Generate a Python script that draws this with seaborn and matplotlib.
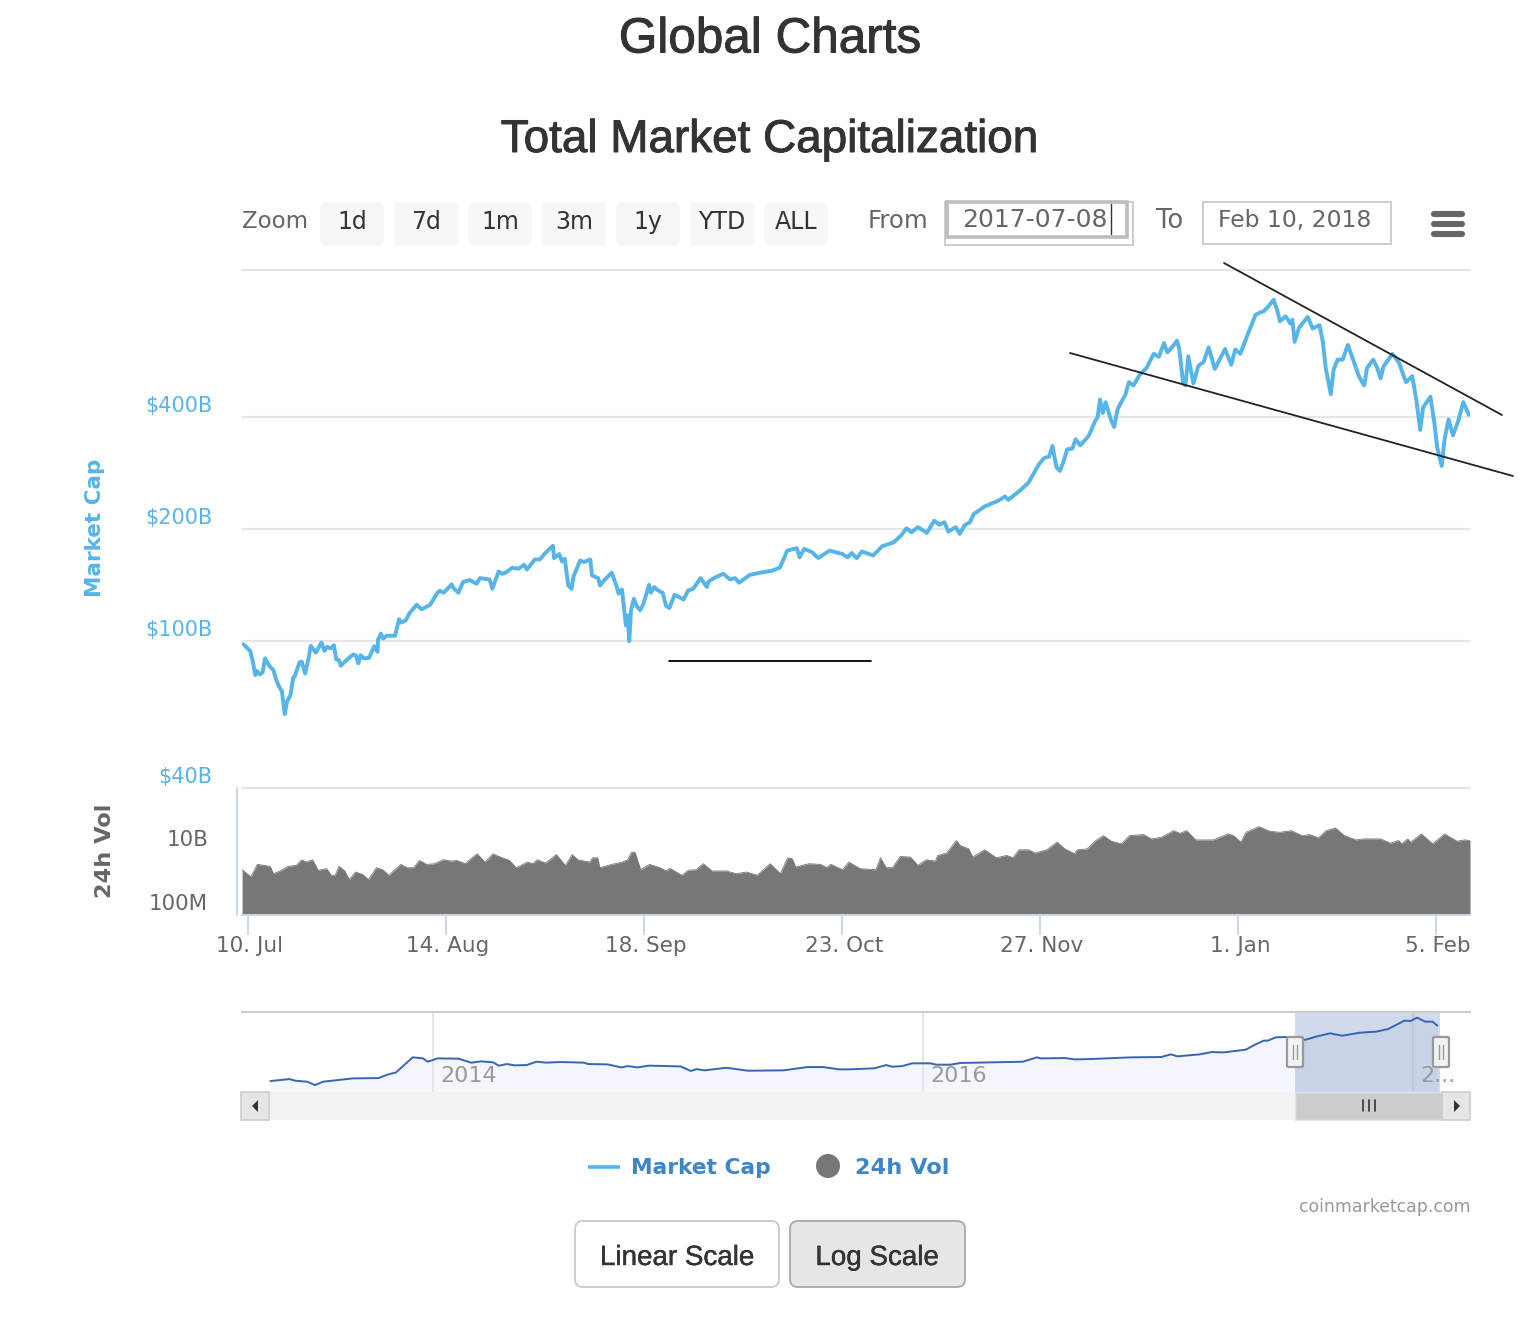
import pandas as pd
import numpy as np
import matplotlib
matplotlib.use("Agg")
import matplotlib.pyplot as plt
import matplotlib.patheffects as pe
import matplotlib.transforms as mtrans
from matplotlib.patches import FancyBboxPatch, Rectangle, Circle, Polygon
from matplotlib.ticker import NullLocator
import seaborn as sns

W, H = 1540, 1320

# main chart: days since 10 Jul 2017, market cap in $B
cap_days = [-0.8, 0.4, 0.8, 1.3, 1.6, 2.1, 2.6, 3.0, 3.8, 4.5, 5.0, 5.5, 6.0, 6.5, 6.9, 7.5, 8.0, 8.3, 9.1, 9.5,
            10.1, 10.7, 11.1, 12.0, 13.0, 13.5, 14.0, 14.6, 15.2, 15.6, 16.1, 16.4, 17.6, 18.6, 19.1, 19.5, 19.9,
            20.5, 21.4, 22.3, 22.9, 23.0, 23.5, 23.9, 24.5, 26.0, 26.7, 27.1, 27.9, 28.5, 29.8, 30.7, 32.2, 33.5,
            33.9, 34.6, 36.0, 36.3, 37.2, 38.0, 39.2, 40.4, 41.0, 42.7, 43.2, 44.3, 45.0, 45.7, 46.7, 47.8, 48.8,
            49.3, 50.7, 51.6, 52.5, 53.9, 54.1, 55.0, 55.5, 56.0, 56.6, 57.2, 57.5, 58.7, 59.4, 60.5, 60.8, 61.9,
            62.2, 62.9, 64.3, 65.2, 65.5, 66.1, 66.8, 67.1, 67.4, 67.7, 68.2, 68.7, 69.3, 69.9, 70.9, 71.2, 71.8,
            72.5, 73.3, 73.9, 74.5, 75.4, 77.0, 77.8, 78.7, 80.0, 81.1, 81.4, 82.6, 84.0, 85.2, 86.1, 86.8, 88.7,
            90.5, 92.6, 94.0, 94.7, 95.3, 97.0, 97.5, 98.3, 99.7, 100.8, 101.9, 102.8, 105.1, 106.0, 106.7, 107.6,
            108.5, 110.5, 112.1, 114.1, 115.4, 116.4, 117.3, 118.4, 120.0, 121.3, 122.2, 123.1, 123.8, 125.1, 125.8,
            126.7, 127.6, 128.3, 130.2, 132.6, 133.8, 134.4, 136.6, 138.0, 139.8, 140.7, 141.6, 142.2, 142.9, 143.5,
            144.1, 144.8, 145.7, 146.3, 147.1, 148.6, 149.7, 150.2, 150.6, 151.1, 151.6, 152.5, 153.1, 153.7, 154.3,
            155.1, 155.7, 156.5, 157.6, 158.8, 160.1, 161.0, 161.9, 162.5, 163.5, 164.2, 164.6, 165.3, 165.7, 166.2,
            167.1, 168.0, 168.9, 169.8, 170.9, 172.7, 173.8, 174.5, 175.4, 176.8, 178.1, 178.9, 179.5, 180.4, 181.3,
            181.9, 182.4, 183.4, 184.3, 184.6, 185.0, 185.8, 187.3, 188.2, 189.4, 190.0, 190.5, 191.4, 191.9, 192.6,
            193.5, 194.4, 195.7, 196.4, 197.3, 197.8, 198.9, 199.6, 200.2, 200.7, 202.3, 203.4, 204.7, 205.8, 206.5,
            207.2, 207.7, 209.0, 209.7, 210.2, 211.0, 211.5, 212.2, 213.0, 214.0, 214.8, 215.8]
cap_vals = [97.7, 93.6, 88.5, 80.7, 82.7, 81.0, 82.1, 89.5, 85.3, 83.2, 78.2, 75.1, 72.8, 63.3, 68.4, 71.2, 79.4, 80.4,
            87.3, 87.7, 81.5, 89.5, 96.8, 92.8, 98.8, 93.8, 96.2, 95.2, 97.1, 88.9, 88.5, 85.5, 89.1, 91.7, 91.1, 86.8,
            91.3, 89.5, 89.8, 96.5, 93.2, 100.8, 104.4, 101.2, 103.0, 103.0, 114.1, 111.8, 113.4, 118.2, 124.9, 121.4,
            124.9, 134.6, 136.3, 134.6, 141.8, 138.6, 134.6, 143.8, 145.6, 142.3, 147.4, 146.2, 138.0, 153.6, 151.4,
            153.0, 157.2, 156.2, 160.1, 155.5, 165.5, 165.5, 172.0, 180.2, 166.9, 171.2, 163.4, 166.2, 140.8, 138.0,
            148.3, 164.4, 162.9, 165.5, 149.9, 147.4, 140.8, 145.2, 152.4, 139.4, 133.8, 137.4, 109.9, 117.0, 99.6,
            120.7, 129.7, 124.0, 120.7, 125.7, 141.4, 134.6, 139.4, 136.5, 134.6, 124.0, 122.4, 132.9, 129.1, 136.5,
            138.0, 147.4, 139.4, 144.3, 148.1, 151.4, 146.2, 147.4, 143.2, 150.4, 152.4, 154.3, 157.2, 166.2, 174.9,
            177.5, 167.7, 176.8, 173.1, 167.0, 171.2, 174.9, 171.2, 167.7, 172.3, 166.8, 173.9, 169.7, 179.7, 184.0,
            191.8, 200.9, 196.0, 202.3, 195.3, 210.6, 205.4, 208.5, 196.8, 202.3, 194.0, 205.0, 208.5, 219.5, 230.1,
            238.3, 244.8, 239.7, 255.1, 267.4, 299.0, 310.5, 313.5, 335.2, 293.5, 286.9, 302.6, 328.3, 329.5, 349.3,
            336.3, 356.6, 389.8, 401.9, 447.5, 411.4, 439.7, 395.3, 376.9, 420.6, 438.2, 461.5, 498.6, 488.0, 521.2,
            543.3, 594, 583, 635, 599, 623, 645, 613, 494, 488, 585, 494, 552, 564, 618, 541, 612, 555, 610, 594, 676,
            757, 768, 773, 799, 831, 781, 727, 750, 716, 734, 640, 699, 747, 695, 710, 637, 544, 462, 539, 573, 573,
            628, 552, 515, 488, 544, 573, 544, 510, 549, 594, 564, 498, 517, 447, 370, 425, 455, 387, 332, 296, 349,
            395, 358, 395, 440, 407]

# 24h volume panel, same day offsets, volume in $B
vol_days = [-1.05, 0.51, 1.65, 3.92, 4.49, 5.7, 7.12, 8.54, 9.46, 10.3, 11.4, 12.4, 13.9, 14.7, 15.4, 16.1, 17.1, 17.9,
            19.0, 20.3, 21.3, 22.7, 23.8, 24.9, 27.0, 28.1, 29.3, 30.3, 31.6, 33.0, 34.5, 35.9, 36.9, 38.4, 39.4, 40.5,
            41.9, 43.3, 44.4, 46.2, 47.4, 49.4, 50.4, 51.1, 52.6, 54.5, 56.1, 57.3, 58.3, 60.4, 60.9, 61.8, 62.2, 63.6,
            66.1, 67.1, 67.8, 68.4, 69.4, 71.0, 72.8, 73.9, 74.6, 76.7, 77.8, 79.2, 80.5, 82.0, 84.5, 86.3, 88.1, 90.0,
            91.3, 92.3, 94.1, 95.4, 96.2, 96.8, 99.1, 101.2, 102.3, 103.0, 105.1, 106.2, 108.2, 111.0, 111.8, 112.8,
            113.9, 115.3, 117.1, 118.4, 119.9, 121.5, 121.9, 123.5, 124.2, 125.2, 125.9, 127.4, 128.1, 130.2, 132.3,
            134.1, 135.2, 136.3, 138.0, 139.1, 141.2, 143.0, 144.4, 146.1, 146.6, 148.3, 149.7, 151.2, 152.6, 154.4,
            155.8, 158.3, 159.7, 161.5, 163.6, 164.7, 165.9, 167.5, 170.7, 173.2, 174.2, 175.5, 176.4, 178.7, 180.6,
            182.4, 184.4, 186.3, 187.7, 189.2, 190.6, 192.2, 193.8, 195.8, 197.3, 200.2, 201.9, 203.4, 203.9, 205.0,
            205.5, 207.4, 209.4, 211.5, 213.7, 215.1, 216.0]
vol_vals = [2.67, 1.6, 3.93, 3.41, 2.0, 2.44, 3.41, 3.65, 5.5, 4.64, 5.5, 2.56, 2.88, 1.78, 1.78, 3.41, 2.44, 1.3, 2.26,
            1.88, 1.3, 3.09, 2.67, 1.78, 3.93, 3.09, 3.09, 5.23, 3.93, 4.12, 5.5, 4.98, 5.23, 4.12, 5.9, 8.45, 4.64, 8.45,
            6.94, 5.23, 3.09, 4.64, 4.12, 5.5, 4.32, 8.0, 3.65, 8.0, 5.5, 4.64, 6.34, 6.34, 3.09, 3.65, 4.64, 5.5, 9.5,
            9.5, 2.67, 3.93, 3.09, 2.44, 2.94, 1.78, 2.56, 2.67, 4.12, 2.44, 2.44, 2.0, 2.26, 1.78, 2.88, 4.12, 2.0, 6.34,
            5.9, 3.24, 4.12, 3.93, 3.09, 3.93, 2.67, 4.64, 2.88, 2.67, 6.34, 3.09, 3.09, 6.97, 6.66, 3.65, 5.5, 4.98, 7.5,
            8.9, 13.0, 22.1, 15.4, 12.1, 6.66, 11.3, 6.34, 7.5, 6.34, 11.3, 11.3, 8.9, 11.3, 19.6, 12.1, 8.45, 11.3, 12.1,
            21.1, 31.6, 21.1, 17.4, 31.6, 34, 24.9, 28.1, 45.3, 37.4, 45.3, 23.2, 23.2, 35.7, 31.6, 19.6, 40.2, 60.5, 43.2,
            40.2, 45.3, 31.6, 34, 26.7, 45.3, 55, 31.6, 23.2, 24.9, 24.9, 18.2, 22.1, 17.4, 24.9, 19.6, 35.7, 17.4, 35.7,
            21.1, 23.2, 22.1]

# navigator: fractional year, market cap in $B
nav_years = [2013.336, 2013.414, 2013.438, 2013.486, 2013.518, 2013.551, 2013.672, 2013.777, 2013.817, 2013.849, 2013.882,
             2013.917, 2013.959, 2013.978, 2014.019, 2014.104, 2014.156, 2014.196, 2014.245, 2014.269, 2014.301, 2014.334,
             2014.382, 2014.422, 2014.463, 2014.519, 2014.616, 2014.632, 2014.713, 2014.769, 2014.794, 2014.834, 2014.882,
             2015.011, 2015.052, 2015.076, 2015.108, 2015.197, 2015.286, 2015.431, 2015.528, 2015.592, 2015.657, 2015.702,
             2015.800, 2015.850, 2015.874, 2015.915, 2015.956, 2016.030, 2016.055, 2016.112, 2016.153, 2016.407, 2016.465,
             2016.481, 2016.579, 2016.620, 2016.686, 2016.850, 2016.973, 2017.011, 2017.039, 2017.129, 2017.178, 2017.227,
             2017.317, 2017.358, 2017.391, 2017.408, 2017.440, 2017.481, 2017.522, 2017.563, 2017.604, 2017.662, 2017.711,
             2017.785, 2017.850, 2017.899, 2017.965, 2017.990, 2018.017, 2018.050, 2018.080, 2018.100]
nav_vals = [1.34, 1.64, 1.38, 1.25, 0.88, 1.25, 1.76, 1.82, 2.67, 3.28, 7.03, 15.6, 14.0, 9.9, 14.0, 13.6, 8.95, 10.3, 9.3,
            6.56, 7.8, 6.8, 7.0, 9.9, 9.0, 9.6, 9.0, 7.8, 7.5, 5.5, 6.3, 5.5, 6.6, 6.1, 3.8, 4.6, 4.05, 5.3, 3.9, 4.05, 5.7,
            5.7, 4.5, 4.5, 5.0, 7.0, 5.9, 6.3, 8.4, 8.4, 7.3, 7.3, 8.7, 9.9, 15.6, 14, 14.5, 12.6, 13.1, 15.6, 16.1, 21.2,
            17.3, 21.2, 27, 26, 34.5, 60, 88, 88, 124, 128, 94, 97, 133, 188, 147, 201, 223, 294, 698, 675, 953, 630, 630, 416]

cap_ticks = [40, 100, 200, 400, 1000]
cap_labels = ["$40B", "$100B", "$200B", "$400B", ""]
vol_ticks = [0.1, 10, 1000]
vol_labels = ["100M", "10B", ""]
date_ticks = ["2017-07-10", "2017-08-14", "2017-09-18", "2017-10-23", "2017-11-27", "2018-01-01", "2018-02-05"]
date_labels = ["10. Jul", "14. Aug", "18. Sep", "23. Oct", "27. Nov", "1. Jan", "5. Feb"]
nav_ticks = [2014, 2016, 2018]
nav_labels = ["2014", "2016", "2..."]
zoom_buttons = ["1d", "7d", "1m", "3m", "1y", "YTD", "ALL"]

BLUE = "#55b4ea"
GRID = "#e6e6e6"
AXIS = "#ccd6eb"
VOL = "#777777"
TEXT = "#666666"
SANS = "Liberation Sans"


def px_axes(fig, left, top, right, bottom):
    return fig.add_axes([left / W, 1 - bottom / H, (right - left) / W, (bottom - top) / H])


def shift_labels(labels, fig, dx, dy):
    # highcharts puts the y labels above the grid line
    off = mtrans.ScaledTranslation(dx / 100, dy / 100, fig.dpi_scale_trans)
    for lab in labels:
        lab.set_transform(lab.get_transform() + off)


def box(ax, x0, y0, x1, y1, face, edge="none", lw=0, r=4, z=2):
    ax.add_patch(FancyBboxPatch((x0 + r, y0 + r), x1 - x0 - 2 * r, y1 - y0 - 2 * r,
                                boxstyle=f"round,pad={r},rounding_size={r}",
                                fc=face, ec=edge, lw=lw, zorder=z))


def make_plot():
    sns.set_theme(style="white")
    plt.rcParams["font.family"] = ["DejaVu Sans"]
    fig = plt.figure(figsize=(W / 100, H / 100), dpi=100, facecolor="white")

    start = pd.Timestamp("2017-07-10")
    cap_df = pd.DataFrame({"date": start + pd.to_timedelta(cap_days, unit="D"), "cap": cap_vals})
    vol_df = pd.DataFrame({"date": start + pd.to_timedelta(vol_days, unit="D"), "vol": vol_vals})
    nav_df = pd.DataFrame({"year": nav_years, "cap": nav_vals})
    x_lim = (start + pd.Timedelta(days=-1.06), start + pd.Timedelta(days=216))

    # market cap
    ax = px_axes(fig, 242, 270, 1470, 788)
    sns.lineplot(data=cap_df, x="date", y="cap", ax=ax, color=BLUE, lw=2.8, estimator=None, legend=False)
    ax.set_yscale("log")
    ax.set_ylim(40.5, 1000)
    ax.set_xlim(*x_lim)
    ax.yaxis.set_minor_locator(NullLocator())
    ax.set_yticks(cap_ticks, cap_labels)
    ax.set_xticks([])
    ax.set_xlabel("")
    ax.set_ylabel("")
    ax.tick_params(axis="y", length=0, pad=21.4, labelcolor=BLUE, labelsize=15)
    ax.grid(axis="y", color=GRID, lw=1.5)
    for line in ax.get_ygridlines():
        line.set_clip_on(False)
    sns.despine(ax=ax, left=True, bottom=True)
    shift_labels(ax.get_yticklabels(), fig, 0, 13)

    # volume
    ax2 = px_axes(fig, 242, 788, 1470, 915)
    sns.lineplot(data=vol_df, x="date", y="vol", ax=ax2, color=VOL, lw=0.6, estimator=None, legend=False)
    ax2.fill_between(vol_df["date"], 0.1, vol_df["vol"], color=VOL, lw=0)
    ax2.set_yscale("log")
    ax2.set_ylim(0.1, 1000)
    ax2.set_xlim(*x_lim)
    ax2.yaxis.set_minor_locator(NullLocator())
    ax2.set_yticks(vol_ticks, vol_labels)
    ax2.set_xticks(pd.to_datetime(date_ticks), date_labels)
    ax2.set_xlabel("")
    ax2.set_ylabel("")
    ax2.patch.set_alpha(0)
    ax2.tick_params(axis="y", length=0, pad=20.8, labelcolor=TEXT, labelsize=15.4)
    ax2.tick_params(axis="x", bottom=True, length=14.4, width=1.4, color=AXIS, pad=1, labelcolor=TEXT, labelsize=15.5)
    sns.despine(ax=ax2, top=True, right=True)
    ax2.spines["left"].set_position(("outward", 3.6))
    ax2.spines["left"].set_color(AXIS)
    ax2.spines["left"].set_linewidth(1.4)
    ax2.spines["bottom"].set_color(AXIS)
    ax2.spines["bottom"].set_linewidth(1.4)
    shift_labels(ax2.get_yticklabels(), fig, 0, 13)
    shift_labels(ax2.get_xticklabels(), fig, 2, 0)

    # navigator
    ax3 = px_axes(fig, 242, 1012, 1470, 1092)
    ax3.fill_between(nav_df["year"], 0.43, nav_df["cap"], color="#f3f6fc", lw=0, zorder=0.3)
    ax3.axvspan(2017.518, 2018.11, color="#6685c2", alpha=0.3, lw=0, zorder=2)
    sns.lineplot(data=nav_df, x="year", y="cap", ax=ax3, color="#3565b4", lw=1.4, estimator=None, legend=False, zorder=4)
    ax3.set_yscale("log")
    ax3.set_ylim(0.43, 1710)
    ax3.set_xlim(2013.22, 2018.233)
    ax3.yaxis.set_minor_locator(NullLocator())
    ax3.set_yticks([])
    ax3.set_xticks(nav_ticks, [])
    ax3.set_xlabel("")
    ax3.set_ylabel("")
    ax3.tick_params(axis="x", length=0)
    ax3.set_axisbelow(True)
    ax3.grid(axis="x", color=GRID, lw=1.4)
    for tick, lab in zip(nav_ticks, nav_labels):
        ax3.annotate(lab, xy=(tick, 0), xycoords=ax3.get_xaxis_transform(), xytext=(5.4, 11.3),
                     textcoords="offset points", ha="left", va="center", color="#999999", fontsize=16, zorder=5)
    sns.despine(ax=ax3, left=True, bottom=True, right=True, top=False)
    ax3.spines["top"].set_color("#cccccc")
    ax3.spines["top"].set_linewidth(1.5)

    # page furniture in pixel coordinates
    ui = fig.add_axes([0, 0, 1, 1], zorder=10)
    ui.set_xlim(0, W)
    ui.set_ylim(H, 0)
    ui.axis("off")
    ui.patch.set_alpha(0)

    heavy = [pe.withStroke(linewidth=0.7, foreground="#333333")]
    light = [pe.withStroke(linewidth=0.3, foreground="#333333")]
    ui.text(770, 40, "Global Charts", ha="center", va="center", family=SANS, fontsize=35.6, color="#333333", path_effects=heavy)
    ui.text(770, 140, "Total Market Capitalization", ha="center", va="center", family=SANS, fontsize=33, color="#333333", path_effects=heavy)

    ui.text(242, 222, "Zoom", va="center", fontsize=16.5, color=TEXT)
    for i, lab in enumerate(zoom_buttons):
        x0 = 320 + i * 74
        box(ui, x0, 202, x0 + 64, 246, "#f7f7f7", r=5)
        ui.text(x0 + 32, 222, lab, ha="center", va="center", fontsize=17, color="#333333")

    ui.text(868, 221, "From", va="center", fontsize=17.6, color=TEXT)
    ui.add_patch(Rectangle((945, 202), 188, 43, fc="white", ec="#cccccc", lw=1.4))
    ui.add_patch(Rectangle((947, 202), 180, 35, fc="white", ec="#bdbdbd", lw=2.6))
    ui.text(962, 220, "2017-07-08", va="center", fontsize=18, color=TEXT)
    ui.plot([1111, 1111], [204, 234], color="#333333", lw=1)
    ui.text(1156, 221, "To", va="center", fontsize=18.5, color=TEXT)
    ui.add_patch(Rectangle((1203, 202), 188, 42, fc="white", ec="#cccccc", lw=1.4))
    ui.text(1218, 221, "Feb 10, 2018", va="center", fontsize=16.9, color=TEXT)
    for y in [214, 224, 234]:
        ui.plot([1434, 1462], [y, y], color="#666666", lw=4.4, solid_capstyle="round")

    ui.text(95, 528, "Market Cap", rotation=90, ha="center", va="center", fontsize=15.5, fontweight="bold", color=BLUE)
    ui.text(105, 851, "24h Vol", rotation=90, ha="center", va="center", fontsize=16.2, fontweight="bold", color=TEXT)

    # hand drawn trend lines from the screenshot
    ui.plot([1224, 1502], [263, 415], color="#222222", lw=1.3)
    ui.plot([1070, 1513], [353, 476], color="#222222", lw=1.3)
    ui.plot([669, 871], [661, 661], color="black", lw=1.3)

    # scrollbar
    ui.add_patch(Rectangle((270, 1092), 1172, 28, fc="#f2f2f2", ec="none", zorder=2))
    ui.add_patch(Rectangle((1295, 1092), 147, 28, fc="#cccccc", ec="#e6e6e6", lw=1, zorder=3))
    for x in [1363, 1369, 1375]:
        ui.plot([x, x], [1100, 1111], color="#333333", lw=1.2, zorder=4)
    for x0, tri in [(241, [(258, 1100), (258, 1112), (252, 1106)]), (1442, [(1454, 1100), (1454, 1112), (1460, 1106)])]:
        ui.add_patch(Rectangle((x0, 1092), 28, 28, fc="#e6e6e6", ec="#cccccc", lw=1.2, zorder=3))
        ui.add_patch(Polygon(tri, fc="#333333", ec="none", zorder=4))
    for x in [1295, 1441]:
        box(ui, x - 8, 1037, x + 8, 1067, "#f2f2f2", edge="#999999", lw=1.6, r=1.5, z=5)
        ui.plot([x - 2, x - 2], [1045, 1059], color="#999999", lw=1, zorder=6)
        ui.plot([x + 2, x + 2], [1045, 1059], color="#999999", lw=1, zorder=6)

    # legend
    ui.plot([588, 620], [1167, 1167], color=BLUE, lw=2.6, solid_capstyle="butt")
    ui.text(631, 1174, "Market Cap", va="baseline", fontsize=15.7, fontweight="bold", color="#3d85c6")
    ui.add_patch(Circle((828, 1166), 12, fc=VOL, ec="none"))
    ui.text(855, 1174, "24h Vol", va="baseline", fontsize=16.2, fontweight="bold", color="#3d85c6")

    ui.text(1470, 1207, "coinmarketcap.com", ha="right", va="center", fontsize=12.4, color="#999999")

    box(ui, 575, 1221, 779, 1287, "white", edge="#cccccc", lw=1.4, r=8)
    ui.text(677, 1258, "Linear Scale", ha="center", va="center", family=SANS, fontsize=20, color="#333333", path_effects=light)
    box(ui, 790, 1221, 965, 1287, "#e6e6e6", edge="#adadad", lw=1.4, r=8)
    ui.text(877, 1258, "Log Scale", ha="center", va="center", family=SANS, fontsize=20, color="#333333", path_effects=light)

    fig.savefig("out.png", dpi=100, facecolor="white")
    plt.close(fig)


if __name__ == "__main__":
    make_plot()
